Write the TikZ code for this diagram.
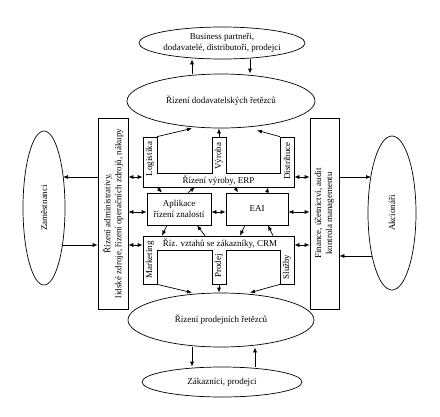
\documentclass[tikz,border=0pt]{standalone}
\usepackage{fontspec}
\setmainfont{Liberation Serif}
\usetikzlibrary{shapes.geometric,arrows.meta}

\begin{document}
\begin{tikzpicture}[x=1pt,y=-1pt,>={Latex[length=5pt,width=4pt]},line width=0.7pt,
  font=\fontsize{9}{11}\selectfont,
  elipsa/.style={draw,ellipse,inner sep=0pt,align=center},
  ramec/.style={draw,inner sep=0pt,align=center},
  otoc/.style={rotate=90,inner sep=0pt,align=center}]
  \useasboundingbox (0,0) rectangle (440,416);
  % okoli podniku
  \node[elipsa,minimum width=160pt,minimum height=32pt] (bp) at (222,43) {Business partneři,\\dodavatelé, distributoři, prodejci};
  \node[elipsa,minimum width=188pt,minimum height=54pt] (scm) at (221,101) {Řízení dodavatelských řetězců};
  \node[elipsa,minimum width=186pt,minimum height=54pt] (prod) at (221,320) {Řízení prodejních řetězců};
  \node[elipsa,minimum width=160pt,minimum height=30pt] (zak) at (222,382) {Zákazníci, prodejci};
  \node[elipsa,minimum width=42pt,minimum height=154pt] (zam) at (44,208) {};
  \node[otoc] (zamT) at (zam) {Zaměstnanci};
  \node[elipsa,minimum width=48pt,minimum height=154pt] (akc) at (392,213) {};
  \node[otoc] (akcT) at (akc) {Akcionáři};
  % boční bloky
  \node[ramec,minimum width=30pt,minimum height=191pt] (admin) at (113,213.5) {};
  \node[otoc] (adminT) at (admin) {Řízení administrativy,\\lidské zdroje, řízení operačních zdrojů, nákupy};
  \node[ramec,minimum width=29pt,minimum height=191pt] (fin) at (324.5,213.5) {};
  \node[otoc] (finT) at (fin) {Finance, účetnictví, audit\\kontrola managementu};
  % ERP
  \draw (143,137) -- (157,137) -- (157,173) -- (212,173) -- (212,137) -- (226,137) -- (226,173)
    -- (280,173) -- (280,137) -- (294,137) -- (294,187) -- (143,187) -- cycle;
  \node[inner sep=0pt,minimum width=151pt,minimum height=50pt] (erp) at (218.5,162) {};
  \node (erpT) at (218.5,181) {Řízení výroby, ERP};
  \node[otoc] (logT) at (150,159) {Logistika};
  \node[otoc] (vyrT) at (219,156) {Výroba};
  \node[otoc] (disT) at (287,161) {Distribuce};
  % CRM
  \draw (143,236) -- (294,236) -- (294,284) -- (280,284) -- (280,250) -- (226,250) -- (226,284)
    -- (212,284) -- (212,250) -- (157,250) -- (157,284) -- (143,284) -- cycle;
  \node[inner sep=0pt,minimum width=151pt,minimum height=48pt] (crm) at (218.5,260) {};
  \node (crmT) at (220,244) {Říz. vztahů se zákazníky, CRM};
  \node[otoc] (mktT) at (150,260) {Marketing};
  \node[otoc] (proT) at (219,266) {Prodej};
  \node[otoc] (sluT) at (287,267) {Služby};
  % středové bloky
  \node[ramec,minimum width=64pt,minimum height=32pt] (apl) at (179,209) {Aplikace\\řízení znalostí};
  \node[ramec,minimum width=62pt,minimum height=32pt] (eai) at (257,209) {EAI};
  % body pro spojnice
  \coordinate (r1) at (0,177);
  \coordinate (r2) at (0,212);
  \coordinate (r3) at (0,245);
  \coordinate (r4) at (0,256);
  \coordinate (zam1) at (63,177);
  \coordinate (zam2) at (62,245);
  \coordinate (akc1) at (371,177);
  \coordinate (akc2) at (372,256);
  % spojnice
  \draw[->] (scm.north -| 192,0) -- (bp.south -| 192,0);
  \draw[->] (bp.south -| 250,0) -- (scm.north -| 250,0);
  \draw[->] (prod.south -| 192,0) -- (zak.north -| 192,0);
  \draw[->] (zak.north -| 255,0) -- (prod.south -| 255,0);
  \draw[->] (admin.west |- r1) -- (zam1);
  \draw[->] (zam2) -- (admin.west |- r3);
  \draw[->] (fin.east |- r1) -- (akc1);
  \draw[->] (akc2) -- (fin.east |- r4);
  \draw[<->] (admin.east |- r1) -- (erp.west |- r1);
  \draw[<->] (admin.east |- r2) -- (apl.west |- r2);
  \draw[<->] (admin.east |- r3) -- (crm.west |- r3);
  \draw[<->] (erp.east |- r1) -- (fin.west |- r1);
  \draw[<->] (eai.east |- r2) -- (fin.west |- r2);
  \draw[<->] (crm.east |- r3) -- (fin.west |- r3);
  \draw[<->] (apl.east |- r2) -- (eai.west |- r2);
  \draw[->] (erp.north -| 157,0) -- (scm.south -| 192,0);
  \draw[->] (erp.north -| vyrT) -- (scm.south -| vyrT);
  \draw[->] (erp.north -| 280,0) -- ([yshift=-2pt]scm.south -| 257,0);
  \draw[->] (erp.south -| 157,0) -- (apl.north -| 162,0);
  \draw[->] (apl.north -| 188,0) -- (erp.south -| 195,0);
  \draw[->] (erp.south -| 235,0) -- (eai.north -| 238,0);
  \draw[->] (eai.north -| 267,0) -- (erp.south -| 268,0);
  \draw[->] (apl.south -| 167,0) -- (crm.north -| 162,0);
  \draw[->] (crm.north -| 205,0) -- (apl.south -| 197,0);
  \draw[->] (eai.south -| 245,0) -- (crm.north -| 240,0);
  \draw[->] (crm.north -| 273,0) -- (eai.south -| 268,0);
  \draw[->] (crm.south -| 157,0) -- (prod.north -| 192,0);
  \draw[->] (crm.south -| proT) -- (prod.north -| proT);
  \draw[->] (crm.south -| 280,0) -- (prod.north -| 250,0);
\end{tikzpicture}
\end{document}
